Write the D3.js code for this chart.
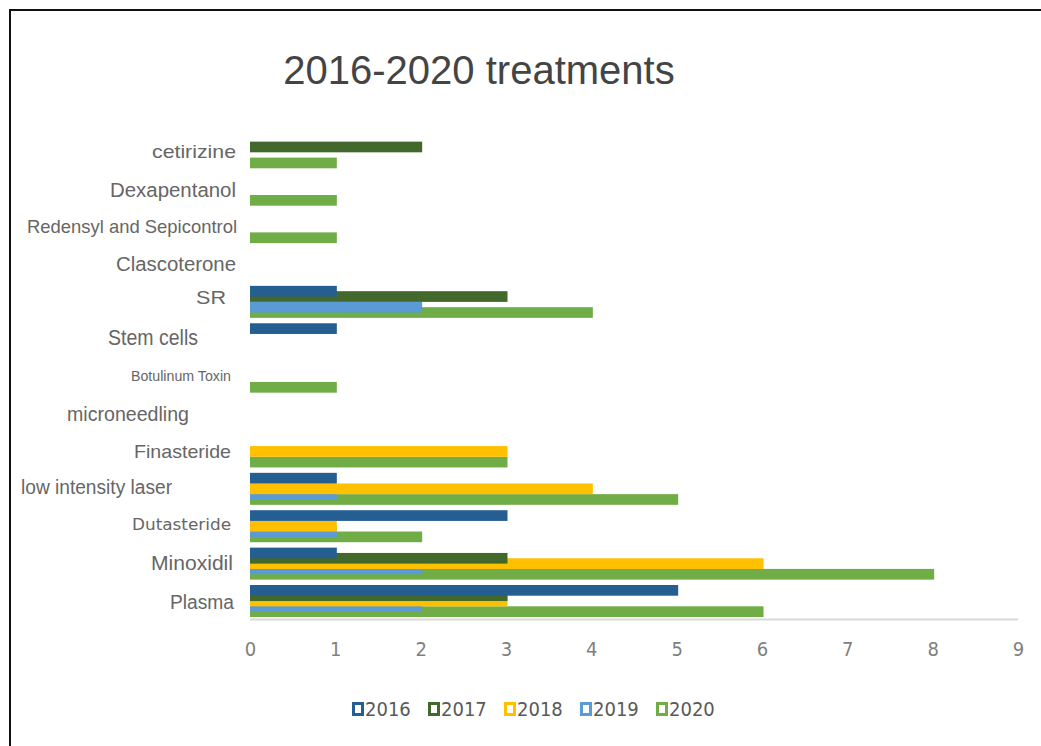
<!DOCTYPE html>
<html>
<head>
<meta charset="utf-8">
<script src="https://cdn.jsdelivr.net/npm/d3@7"></script>
<style>
  html, body { margin: 0; padding: 0; background: #fff; }
  svg { display: block; }
</style>
</head>
<body>
<script>
// ---- data ----
const categories = ["cetirizine", "Dexapentanol", "Redensyl and Sepicontrol", "Clascoterone", "SR",
  "Stem cells", "Botulinum Toxin", "microneedling", "Finasteride", "low intensity laser",
  "Dutasteride", "Minoxidil", "Plasma"];
const years = ["2016", "2017", "2018", "2019", "2020"];
const v2016 = [0, 0, 0, 0, 1, 1, 0, 0, 0, 1, 3, 1, 5];
const v2017 = [2, 0, 0, 0, 3, 0, 0, 0, 0, 0, 0, 3, 3];
const v2018 = [0, 0, 0, 0, 0, 0, 0, 0, 3, 4, 1, 6, 3];
const v2019 = [0, 0, 0, 0, 2, 0, 0, 0, 0, 1, 1, 2, 2];
const v2020 = [1, 1, 1, 0, 4, 0, 1, 0, 3, 5, 2, 8, 6];
const xTicks = [0, 1, 2, 3, 4, 5, 6, 7, 8, 9];
const title = "2016-2020 treatments";

const seriesValues = [v2016, v2017, v2018, v2019, v2020];
const colors = ["#255E91", "#43682B", "#FFC000", "#5B9BD5", "#70AD47"];

// label styling (size, dy, right edge x, width, font)
const labelStyle = {
  "cetirizine": {size: 19, dy: -1, right: 236, w: 84},
  "Dexapentanol": {size: 20, dy: 0, right: 236, w: 126},
  "Redensyl and Sepicontrol": {size: 19, dy: -1, right: 237, w: 210},
  "Clascoterone": {size: 20, dy: 0, right: 236, w: 120},
  "SR": {size: 18, dy: -4, right: 226, w: 30},
  "Stem cells": {size: 22, dy: -2, right: 198, w: 90},
  "Botulinum Toxin": {size: 14, dy: -1, right: 231, w: 100},
  "microneedling": {size: 21, dy: -1, right: 189, w: 122},
  "Finasteride": {size: 19, dy: 0, right: 231, w: 97},
  "low intensity laser": {size: 20, dy: -2, right: 172, w: 151},
  "Dutasteride": {size: 16, dy: -2, right: 231, w: 99, font: "DejaVu Sans"},
  "Minoxidil": {size: 20, dy: -1, right: 233, w: 82},
  "Plasma": {size: 20, dy: 1, right: 234, w: 64}
};

const W = 1041, H = 746;
const svg = d3.select("body").append("svg").attr("width", W).attr("height", H);

// frame
svg.append("path")
  .attr("d", `M10,${H} L10,10 L${W},10`)
  .attr("fill", "none").attr("stroke", "#111").attr("stroke-width", 2);

// title
svg.append("text")
  .attr("x", 479).attr("y", 84)
  .attr("text-anchor", "middle")
  .attr("font-family", "Liberation Sans, Arial, sans-serif")
  .attr("font-size", 40)
  .attr("fill", "#444")
  .text(title);

// scales
const x = d3.scaleLinear().domain([0, 9]).range([250, 1018]);
const y = d3.scaleBand().domain(categories).range([133.6, 619.7]).padding(0);
const ySeries = d3.scalePoint().domain(years).range([2.7, 24]);
const barH = 10.7;

// axis line
svg.append("line")
  .attr("x1", x(0)).attr("x2", x(9))
  .attr("y1", 619.5).attr("y2", 619.5)
  .attr("stroke", "#d9d9d9").attr("stroke-width", 2);

// bars: later series drawn first so earlier ones sit on top
for (let s = years.length - 1; s >= 0; s--) {
  const vals = seriesValues[s];
  svg.append("g").selectAll("rect")
    .data(categories.map((c, i) => ({c, v: vals[i]})).filter(d => d.v > 0))
    .join("rect")
    .attr("x", x(0))
    .attr("y", d => y(d.c) + ySeries(years[s]))
    .attr("width", d => x(d.v) - x(0) + 1.5)
    .attr("height", barH)
    .attr("fill", colors[s]);
}

// x axis tick labels
const xAxis = d3.axisBottom(x).tickValues(xTicks).tickSize(0).tickPadding(0).tickFormat(d3.format("d"));
const xg = svg.append("g").attr("transform", "translate(0,642)").call(xAxis);
xg.select(".domain").remove();
xg.selectAll("text")
  .attr("font-family", "Liberation Sans Narrow, DejaVu Sans Condensed, sans-serif")
  .attr("font-size", 20)
  .attr("fill", "#808080");

// category labels
const lg = svg.append("g");
categories.forEach(c => {
  const st = labelStyle[c];
  lg.append("text")
    .attr("x", st.right)
    .attr("y", y(c) + y.bandwidth() / 2 + st.dy)
    .attr("dominant-baseline", "central")
    .attr("text-anchor", "end")
    .attr("font-family", st.font || "Liberation Sans, Arial, sans-serif")
    .attr("font-size", st.size)
    .attr("fill", "#666")
    .attr("textLength", st.w)
    .attr("lengthAdjust", "spacingAndGlyphs")
    .text(c);
});

// legend
const legend = svg.append("g").attr("transform", "translate(352,709)");
years.forEach((yr, i) => {
  const g = legend.append("g").attr("transform", `translate(${i * 76},0)`);
  g.append("rect").attr("x", 1.5).attr("y", -5.5).attr("width", 9).attr("height", 11)
    .attr("fill", "#fff").attr("stroke", colors[i]).attr("stroke-width", 3);
  g.append("text").attr("x", 13).attr("y", 0)
    .attr("dominant-baseline", "central")
    .attr("font-family", "Liberation Sans Narrow, DejaVu Sans Condensed, sans-serif")
    .attr("font-size", 20)
    .attr("fill", "#595959")
    .text(yr);
});
</script>
</body>
</html>
